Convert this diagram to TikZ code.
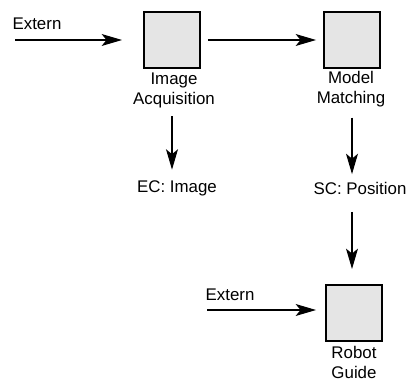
\documentclass[tikz,border=0pt]{standalone}
\usepackage{fontspec}
\setmainfont{Liberation Sans}
\usetikzlibrary{arrows.meta,positioning}

\tikzset{
  block/.style={draw=black, fill=gray!20, line width=1.4pt, minimum size=1.4cm, inner sep=0pt},
  lbl/.style={align=center, font=\fontsize{12}{14.2}\selectfont, inner sep=1pt},
  flow/.style={-{Stealth[length=14.5pt, width=8.5pt, inset=3.5pt]}, line width=0.75pt},
}

\begin{document}
\begin{tikzpicture}[x=0.025cm, y=-0.025cm]
  % page frame
  \useasboundingbox (0,0) rectangle (407,381);

  % blocks
  \node[block] (acq) at (172,40) {};
  \node[block] (match) at (352,40) {};
  \node[block] (guide) at (354,313) {};

  % block names
  \node[lbl] (acqtxt) at (174,90) {Image\\Acquisition};
  \node[lbl] (matchtxt) at (351,89) {Model\\Matching};
  \node[lbl] (guidetxt) at (354,362) {Robot\\Guide};

  % inputs and channels
  \coordinate (ext1) at (15,40);
  \node[lbl] (extlbl1) at (37,24) {Extern};
  \coordinate (ext2) at (207,310);
  \node[lbl] (extlbl2) at (230,295) {Extern};
  \node[lbl] (ec) at (177,188) {EC: Image};
  \node[lbl] (sc) at (360,188) {SC: Position};

  % connections
  \draw[flow, shorten >=0.525cm] (ext1) -- (acq);
  \draw[flow, shorten <=0.175cm, shorten >=0.175cm] (acq) -- (match);
  \draw[flow, shorten <=0.175cm, shorten >=0.225cm] (acqtxt.south -| acq) -- (ec.north -| acq);
  \draw[flow, shorten <=0.225cm, shorten >=0.15cm] (matchtxt.south -| match) -- (sc.north -| match);
  \draw[flow, shorten <=0.4cm, shorten >=0.375cm] (sc.south -| match) -- (guide.north -| match);
  \draw[flow, shorten >=0.225cm] (ext2) -- (ext2 -| guide.west);
\end{tikzpicture}
\end{document}
